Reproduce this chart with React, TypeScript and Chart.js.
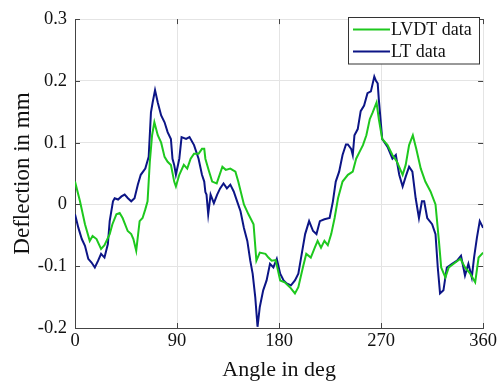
import React, { useEffect, useRef } from "react";
import { Chart, registerables } from "chart.js";

Chart.register(...registerables);

const seriesNames = ["LVDT data", "LT data"];
const xAxisTitle = "Angle in deg";
const yAxisTitle = "Deflection in mm";
const xTicks = [0, 90, 180, 270, 360];
const yTicks = [-0.2, -0.1, 0, 0.1, 0.2, 0.3];

const lvdtAngles = [0, 4.4, 8.8, 13, 15.5, 19, 23, 26, 30.6, 33, 36.5, 39.4, 42, 46.5, 49.6, 51.5, 54, 57, 59.6, 62, 64, 66, 68, 70, 73, 76, 79, 81.7, 84.6, 87.5, 89, 92, 96, 99, 102, 105, 109, 112, 114, 115, 118, 121, 125, 130, 133, 137, 141.5, 144, 149, 153, 157.5, 160, 163, 168, 170.6, 173.5, 177, 181, 185, 189.6, 194, 197, 201, 204, 208, 211.5, 214, 217, 220, 223, 226, 229, 232, 236, 240.7, 245, 248, 251, 254, 257, 260, 262.6, 266, 268, 271, 275.7, 280, 284, 289, 291.7, 294.7, 298, 301, 305, 309, 313.6, 318, 321, 323, 326.7, 329.7, 334, 340, 344, 348.6, 353, 356, 360];
const lvdtValues = [0.037, 0.005, -0.032, -0.059, -0.051, -0.056, -0.072, -0.066, -0.048, -0.032, -0.016, -0.014, -0.022, -0.043, -0.048, -0.056, -0.075, -0.027, -0.022, -0.008, 0.005, 0.069, 0.112, 0.133, 0.112, 0.1, 0.077, 0.069, 0.064, 0.037, 0.029, 0.048, 0.064, 0.058, 0.074, 0.082, 0.082, 0.09, 0.09, 0.074, 0.055, 0.037, 0.034, 0.061, 0.056, 0.058, 0.053, 0.037, 0, -0.016, -0.032, -0.091, -0.078, -0.08, -0.086, -0.091, -0.09, -0.123, -0.126, -0.134, -0.144, -0.134, -0.102, -0.08, -0.086, -0.07, -0.059, -0.07, -0.059, -0.066, -0.048, -0.022, 0.01, 0.037, 0.048, 0.053, 0.074, 0.085, 0.096, 0.112, 0.138, 0.149, 0.165, 0.138, 0.106, 0.096, 0.08, 0.069, 0.048, 0.064, 0.096, 0.112, 0.09, 0.058, 0.037, 0.021, 0, -0.059, -0.102, -0.118, -0.102, -0.096, -0.088, -0.102, -0.112, -0.126, -0.086, -0.078];

const ltAngles = [0, 3, 6, 8.8, 11.7, 14.6, 17.5, 20.4, 23, 26, 29, 30.6, 33.5, 35, 38, 41, 43.8, 46.7, 49.6, 52.5, 55.4, 58, 62, 65, 67, 68.5, 70.6, 73, 76, 79, 81.7, 84.6, 86, 87.5, 89, 92, 94, 98, 101, 105, 109, 112, 114, 115, 116, 117.5, 119.6, 122.5, 125.4, 128, 131, 134, 137, 140, 143, 146, 149, 152, 154.6, 156.7, 159, 161, 163, 166, 169, 172, 175, 178, 181, 184, 186.7, 190.5, 194, 197, 200, 203, 206.5, 210, 213, 216, 220, 224.6, 227.5, 230, 233, 236, 239, 240.7, 243.6, 245, 246.5, 249.4, 252, 255, 258, 261, 264, 265.5, 267, 268, 271, 275.7, 280, 283, 286, 289, 291.7, 294.7, 297.6, 300.5, 303.4, 306, 308, 310.7, 315, 318, 320, 322, 325, 328, 332.6, 337, 340.5, 344, 347, 350, 352, 354.5, 357, 360];
const ltValues = [-0.016, -0.038, -0.056, -0.067, -0.088, -0.094, -0.102, -0.091, -0.08, -0.086, -0.064, -0.027, 0.005, 0.01, 0.008, 0.013, 0.016, 0.01, 0.005, 0.01, 0.032, 0.048, 0.058, 0.077, 0.149, 0.165, 0.185, 0.165, 0.144, 0.133, 0.117, 0.106, 0.074, 0.064, 0.048, 0.074, 0.109, 0.106, 0.109, 0.096, 0.074, 0.048, 0.037, 0.02, 0.016, -0.016, 0.016, 0.002, 0.016, 0.026, 0.034, 0.026, 0.032, 0.021, 0.005, -0.011, -0.038, -0.059, -0.091, -0.112, -0.15, -0.198, -0.166, -0.139, -0.123, -0.096, -0.102, -0.088, -0.112, -0.123, -0.128, -0.131, -0.123, -0.112, -0.08, -0.048, -0.027, -0.043, -0.048, -0.027, -0.024, -0.022, 0.005, 0.037, 0.053, 0.08, 0.097, 0.097, 0.09, 0.08, 0.112, 0.122, 0.151, 0.16, 0.18, 0.183, 0.207, 0.2, 0.196, 0.17, 0.106, 0.093, 0.074, 0.08, 0.048, 0.029, 0.045, 0.061, 0.053, 0.01, -0.022, 0.005, 0.005, -0.022, -0.032, -0.048, -0.102, -0.144, -0.139, -0.102, -0.096, -0.091, -0.083, -0.115, -0.096, -0.118, -0.086, -0.054, -0.027, -0.038];

const colors = ["#1ec81e", "#0c1586"];
const FONT = "'Liberation Serif', 'Times New Roman', serif";

const toPoints = (xs: number[], ys: number[]) => xs.map((x, i) => ({ x, y: ys[i] }));

const frameAndLegend = {
  id: "frameAndLegend",
  afterDraw(chart: any) {
    const { ctx, chartArea } = chart;
    const { left, right, top, bottom } = chartArea;
    const xs = chart.scales.x;
    const ys = chart.scales.y;
    ctx.save();
    // inward ticks
    ctx.strokeStyle = "#444";
    ctx.lineWidth = 1;
    const tl = 5;
    ctx.beginPath();
    xTicks.forEach((v) => {
      const px = Math.round(xs.getPixelForValue(v)) + 0.5;
      ctx.moveTo(px, bottom);
      ctx.lineTo(px, bottom - tl);
      ctx.moveTo(px, top);
      ctx.lineTo(px, top + tl);
    });
    yTicks.forEach((v) => {
      const py = Math.round(ys.getPixelForValue(v)) + 0.5;
      ctx.moveTo(left, py);
      ctx.lineTo(left + tl, py);
      ctx.moveTo(right, py);
      ctx.lineTo(right - tl, py);
    });
    ctx.stroke();

    // legend
    const bx = 348.5, by = 17.5, bw = 131, bh = 46.5;
    ctx.fillStyle = "#ffffff";
    ctx.fillRect(bx, by, bw, bh);
    ctx.strokeStyle = "#333";
    ctx.lineWidth = 1;
    ctx.strokeRect(bx, by, bw, bh);
    ctx.font = `18px ${FONT}`;
    ctx.textBaseline = "middle";
    ctx.textAlign = "left";
    const rows = [29.5, 51.5];
    chart.data.datasets.forEach((ds: any, i: number) => {
      const y = rows[i];
      ctx.strokeStyle = ds.borderColor;
      ctx.lineWidth = 2;
      ctx.beginPath();
      ctx.moveTo(353, y);
      ctx.lineTo(390, y);
      ctx.stroke();
      ctx.fillStyle = "#111";
      ctx.fillText(ds.label, 391, y + 1);
    });
    ctx.restore();
  },
};

export default function App() {
  const ref = useRef<HTMLCanvasElement | null>(null);
  useEffect(() => {
    if (!ref.current) return;
    const chart = new Chart(ref.current, {
      type: "line",
      data: {
        datasets: [
          {
            label: seriesNames[0],
            data: toPoints(lvdtAngles, lvdtValues),
            borderColor: colors[0],
            backgroundColor: colors[0],
            borderWidth: 2,
            pointRadius: 0,
            tension: 0,
          },
          {
            label: seriesNames[1],
            data: toPoints(ltAngles, ltValues),
            borderColor: colors[1],
            backgroundColor: colors[1],
            borderWidth: 2,
            pointRadius: 0,
            tension: 0,
          },
        ],
      },
      options: {
        animation: false,
        responsive: false,
        maintainAspectRatio: false,
        layout: { padding: { top: 15, right: 12, left: 0, bottom: 0 } },
        plugins: { legend: { display: false }, tooltip: { enabled: false } },
        scales: {
          x: {
            type: "linear",
            min: 0,
            max: 360,
            afterBuildTicks: (scale: any) => {
              scale.ticks = xTicks.map((v) => ({ value: v }));
            },
            afterFit: (scale: any) => {
              scale.height = 55;
            },
            ticks: {
              font: { family: FONT, size: 18.5 },
              color: "#111",
              padding: 2,
              maxRotation: 0,
              autoSkip: false,
            },
            grid: { color: "#e4e4e4", drawTicks: false, lineWidth: 1 },
            border: { color: "#444", width: 1 },
            title: {
              display: true,
              text: xAxisTitle,
              font: { family: FONT, size: 22 },
              color: "#111",
              padding: { top: 0, bottom: 0 },
            },
          },
          y: {
            type: "linear",
            min: -0.2,
            max: 0.3,
            afterBuildTicks: (scale: any) => {
              scale.ticks = yTicks.map((v) => ({ value: v }));
            },
            afterFit: (scale: any) => {
              scale.width = 75;
            },
            ticks: {
              font: { family: FONT, size: 18.5 },
              color: "#111",
              padding: 8,
              callback: (v: any) => String(Number(Number(v).toFixed(1))),
            },
            grid: { color: "#e4e4e4", drawTicks: false, lineWidth: 1 },
            border: { color: "#444", width: 1 },
            title: {
              display: true,
              text: yAxisTitle,
              font: { family: FONT, size: 23 },
              color: "#111",
              padding: { top: 9, bottom: 0 },
            },
          },
        },
      },
      plugins: [frameAndLegend],
    } as any);
    return () => chart.destroy();
  }, []);
  return (
    <div style={{ position: "fixed", left: 0, top: 0, width: 499, height: 383, background: "#fff" }}>
      <canvas ref={ref} width={499} height={383} style={{ width: 499, height: 383, display: "block" }} />
    </div>
  );
}
